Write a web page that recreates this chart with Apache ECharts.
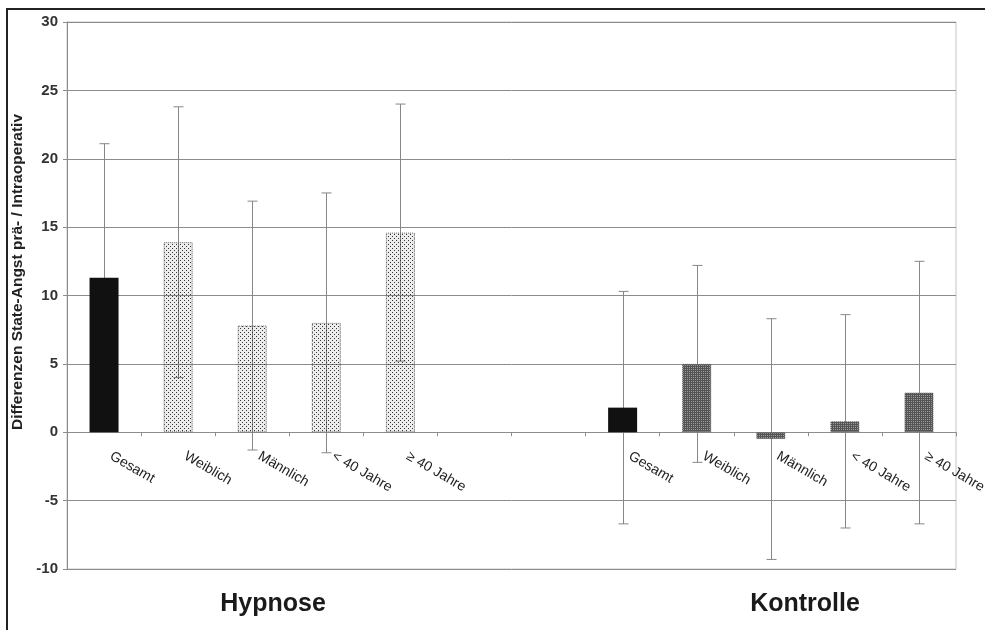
<!DOCTYPE html>
<html>
<head>
<meta charset="utf-8">
<script src="https://cdn.jsdelivr.net/npm/echarts@6/dist/echarts.min.js"></script>
<style>
  html, body { margin: 0; padding: 0; background: #fff; }
  #chart { width: 985px; height: 630px; }
</style>
</head>
<body>
<div id="chart"></div>
<script>
// Category slots: five Hypnose subgroups, two empty spacer slots, five Kontrolle subgroups
const categories = ['Gesamt', 'Weiblich', 'Männlich', '< 40 Jahre', '≥ 40 Jahre', '', '',
                    'Gesamt', 'Weiblich', 'Männlich', '< 40 Jahre', '≥ 40 Jahre'];
// Mean difference of state anxiety (pre- vs. intraoperative)
const means = [11.3, 13.9, 7.8, 8.0, 14.6, null, null, 1.8, 5.0, -0.5, 0.8, 2.9];
// Standard deviations drawn as error bars
const sds = [9.8, 9.9, 9.1, 9.5, 9.4, null, null, 8.5, 7.2, 8.8, 7.8, 9.6];
// Fill kind per slot: total, hypnosis subgroup, control subgroup
const fills = ['total', 'hyp', 'hyp', 'hyp', 'hyp', null, null, 'total', 'ctl', 'ctl', 'ctl', 'ctl'];
const groupNames = ['Hypnose', 'Kontrolle'];
const yMin = -10, yMax = 30, yStep = 5;
const yAxisTitle = 'Differenzen State-Angst prä- / Intraoperativ';

// Small repeating dot textures for the subgroup bars
function makePattern(size, bg, dots, dotColor) {
  const c = document.createElement('canvas');
  c.width = size; c.height = size;
  const ctx = c.getContext('2d');
  if (bg) { ctx.fillStyle = bg; ctx.fillRect(0, 0, size, size); }
  ctx.fillStyle = dotColor;
  dots.forEach(d => ctx.fillRect(d[0], d[1], 1, 1));
  return { image: c, repeat: 'repeat' };
}
const lightDots = makePattern(4, 'rgba(0,0,0,0.07)', [[0, 0], [2, 2]], '#333333');
const darkDots = makePattern(2, '#545454', [[1, 1]], '#9c9c9c');
const fillStyle = { total: '#111111', hyp: lightDots, ctl: darkDots };
const borderStyle = {
  total: { borderWidth: 0 },
  hyp: { borderColor: '#6a6a6a', borderWidth: 1, borderType: 'dotted' },
  ctl: { borderColor: '#555', borderWidth: 1, borderType: 'dotted' }
};

const barData = means.map((m, i) => m === null ? '-' : {
  value: m,
  itemStyle: Object.assign({ color: fillStyle[fills[i]] }, borderStyle[fills[i]])
});
const errData = [];
means.forEach((m, i) => { if (m !== null) errData.push([i, m, sds[i]]); });
const labelData = [];
categories.forEach((c, i) => { if (c) labelData.push([i, 0]); });

const chart = echarts.init(document.getElementById('chart'), null, { renderer: 'canvas' });
const GRID_COLOR = '#8c8c8c';
const FONT = 'Liberation Sans, Arial, sans-serif';

chart.setOption({
  animation: false,
  backgroundColor: '#ffffff',
  grid: { left: 67, right: 29, top: 22, bottom: 61, show: true, borderColor: '#c4c4c4', borderWidth: 1, backgroundColor: 'transparent' },
  xAxis: {
    type: 'category',
    data: categories,
    axisLine: { onZero: true, lineStyle: { color: GRID_COLOR, width: 1 } },
    axisTick: { show: true, interval: 0, length: 4, lineStyle: { color: GRID_COLOR } },
    axisLabel: { show: false },
    splitLine: { show: false }
  },
  yAxis: {
    type: 'value',
    min: yMin, max: yMax, interval: yStep,
    axisLine: { show: true, lineStyle: { color: GRID_COLOR, width: 1 } },
    axisTick: { show: true, length: 4, lineStyle: { color: GRID_COLOR } },
    axisLabel: { fontSize: 15, fontWeight: 'bold', color: '#333', fontFamily: FONT, margin: 9 },
    splitLine: { show: true, lineStyle: { color: GRID_COLOR, width: 1 } }
  },
  series: [
    {
      // standard deviation whiskers
      type: 'custom',
      z: 1,
      silent: true,
      data: errData,
      renderItem: function (params, api) {
        const i = api.value(0), m = api.value(1), s = api.value(2);
        const top = api.coord([i, m + s]);
        const bot = api.coord([i, m - s]);
        const x = Math.round(top[0]) + 0.5;
        const w = 5;
        const st = { stroke: '#878787', lineWidth: 1 };
        return {
          type: 'group',
          children: [
            { type: 'line', shape: { x1: x, y1: top[1], x2: x, y2: bot[1] }, style: st },
            { type: 'line', shape: { x1: x - w, y1: top[1], x2: x + w, y2: top[1] }, style: st },
            { type: 'line', shape: { x1: x - w, y1: bot[1], x2: x + w, y2: bot[1] }, style: st }
          ]
        };
      }
    },
    {
      type: 'bar',
      z: 2,
      data: barData,
      barWidth: 29
    },
    {
      // slanted category names hanging from the zero line
      type: 'custom',
      z: 3,
      silent: true,
      clip: false,
      data: labelData,
      renderItem: function (params, api) {
        const i = api.value(0);
        const p = api.coord([i, api.value(1)]);
        return {
          type: 'text',
          x: p[0] + 7,
          y: p[1] + 23,
          rotation: -Math.PI / 6,
          style: {
            text: categories[i],
            fill: '#222',
            font: '14px ' + FONT,
            textAlign: 'left',
            textVerticalAlign: 'middle'
          }
        };
      }
    }
  ],
  graphic: [
    { type: 'line', shape: { x1: 7, y1: 9, x2: 985, y2: 9 }, style: { stroke: '#222', lineWidth: 2 } },
    { type: 'line', shape: { x1: 7, y1: 8, x2: 7, y2: 630 }, style: { stroke: '#222', lineWidth: 2 } },
    {
      type: 'text', x: 18, y: 272, rotation: Math.PI / 2,
      style: { text: yAxisTitle, fill: '#222', font: 'bold 15.5px ' + FONT, textAlign: 'center', textVerticalAlign: 'middle' }
    },
    {
      type: 'text', x: 273, y: 604,
      style: { text: groupNames[0], fill: '#1a1a1a', font: 'bold 25px ' + FONT, textAlign: 'center', textVerticalAlign: 'middle' }
    },
    {
      type: 'text', x: 805, y: 604,
      style: { text: groupNames[1], fill: '#1a1a1a', font: 'bold 25px ' + FONT, textAlign: 'center', textVerticalAlign: 'middle' }
    }
  ]
});
</script>
</body>
</html>
